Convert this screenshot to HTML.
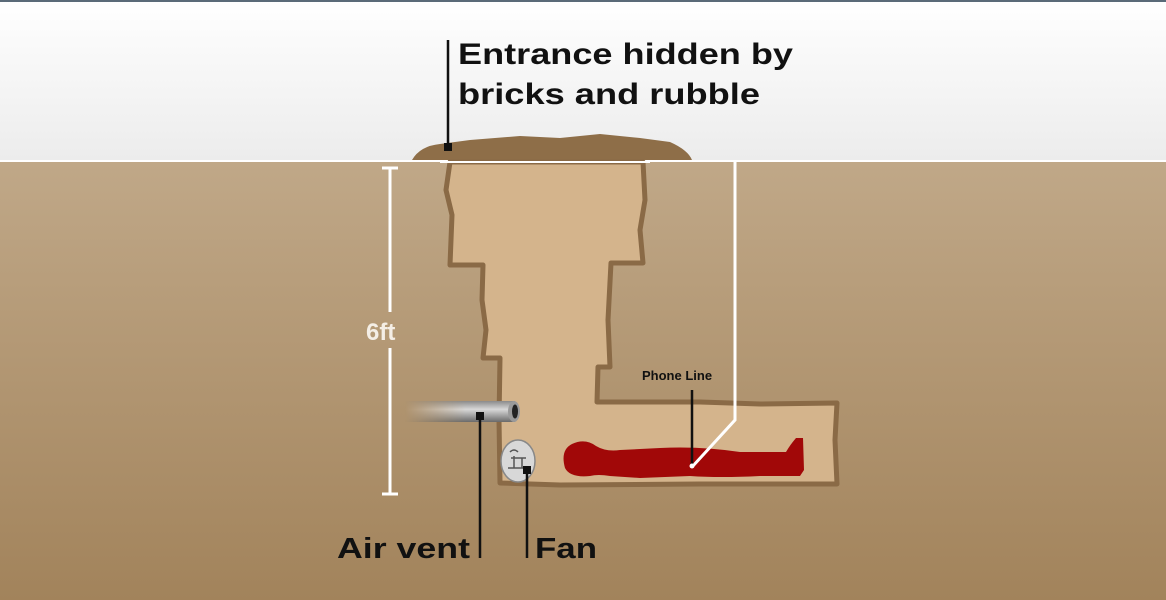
<!DOCTYPE html>
<html><head><meta charset="utf-8"><style>
html,body{margin:0;padding:0;width:1166px;height:600px;overflow:hidden;background:#fff}
svg{display:block}
text{font-family:"Liberation Sans",Arial,sans-serif;font-weight:bold}
</style></head><body>
<svg width="1166" height="600" viewBox="0 0 1166 600" xmlns="http://www.w3.org/2000/svg">
<defs>
<linearGradient id="sky" x1="0" y1="0" x2="0" y2="1"><stop offset="0" stop-color="#ffffff"/><stop offset="1" stop-color="#ececec"/></linearGradient>
<linearGradient id="ground" x1="0" y1="0" x2="0" y2="1"><stop offset="0" stop-color="#c0a888"/><stop offset="1" stop-color="#a2835b"/></linearGradient>
<linearGradient id="pipe" x1="0" y1="0" x2="0" y2="1"><stop offset="0" stop-color="#8a8a8a"/><stop offset="0.4" stop-color="#d8d8d8"/><stop offset="1" stop-color="#6a6a6a"/></linearGradient>
<linearGradient id="pipefade" x1="0" y1="0" x2="1" y2="0"><stop offset="0" stop-color="#fff" stop-opacity="0"/><stop offset="0.55" stop-color="#fff" stop-opacity="1"/></linearGradient>
<mask id="pm" maskUnits="userSpaceOnUse" x="400" y="390" width="130" height="40"><rect x="405" y="390" width="110" height="40" fill="url(#pipefade)"/></mask>
</defs>
<rect width="1166" height="161" fill="url(#sky)"/>
<rect width="1166" height="2" fill="#5a6a78"/>
<rect y="161" width="1166" height="439" fill="url(#ground)"/>
<!-- mound -->
<path d="M412 160 Q420 146 440 144 L470 140 L520 136 L560 138 L600 134 L640 138 L670 142 Q688 150 692 160 Z" fill="#8e6e48"/>
<line x1="0" y1="161" x2="1166" y2="161" stroke="#fff" stroke-width="2"/>
<!-- tunnel -->
<path d="M450 162 L446 190 L452 215 L450 265 L483 265 L482 300 L486 330 L483 358 L500 358 L499 420 L500 483 L560 485 L700 484 L837 484 L835 440 L837 403 L760 404 L700 402 L597 402 L598 367 L610 367 L608 320 L611 263 L643 263 L640 230 L645 200 L643 162 Z" fill="#d4b48c" stroke="#8a6a46" stroke-width="5" stroke-linejoin="round"/>
<line x1="440" y1="162" x2="650" y2="162" stroke="#fff" stroke-width="2"/>
<!-- body -->
<path d="M572 444 Q585 438 596 446 Q606 452 620 450 L660 448 Q700 446 740 452 L786 452 Q790 445 796 438 L803 438 L804 470 L800 476 L760 476 Q720 478 690 476 L640 478 L610 476 Q598 474 590 476 Q570 478 565 468 Q560 450 572 444 Z" fill="#a10808"/>
<!-- phone line -->
<polyline points="735,162 735,420 692,467" fill="none" stroke="#fff" stroke-width="3"/>
<line x1="692" y1="390" x2="692" y2="466" stroke="#111" stroke-width="2.5"/>
<circle cx="692" cy="466" r="2.5" fill="#fff"/>
<text x="642" y="380" font-size="13" fill="#111">Phone Line</text>
<!-- 6ft -->
<line x1="390" y1="168" x2="390" y2="312" stroke="#fff" stroke-width="3"/>
<line x1="390" y1="348" x2="390" y2="494" stroke="#fff" stroke-width="3"/>
<line x1="382" y1="168" x2="398" y2="168" stroke="#fff" stroke-width="3"/>
<line x1="382" y1="494" x2="398" y2="494" stroke="#fff" stroke-width="3"/>
<text x="366" y="340" font-size="24" fill="#f4eee6" font-weight="normal">6ft</text>
<!-- pipe -->
<rect x="405" y="401" width="110" height="21" fill="url(#pipe)" mask="url(#pm)"/>
<ellipse cx="514" cy="411.5" rx="6" ry="10.5" fill="#9a9a9a"/>
<ellipse cx="515" cy="411.5" rx="3" ry="7" fill="#222"/>
<!-- fan -->
<ellipse cx="518" cy="461" rx="17" ry="21" fill="#d8d8d8" stroke="#888" stroke-width="1.5"/>
<path d="M510 452 Q514 448 518 452 M508 468 L528 468 M514 456 L514 468 M522 458 L522 468 M511 458 L526 458" stroke="#555" stroke-width="1.5" fill="none"/>
<!-- leaders -->
<line x1="480" y1="416" x2="480" y2="558" stroke="#111" stroke-width="2.5"/>
<rect x="476" y="412" width="8" height="8" fill="#111"/>
<line x1="527" y1="470" x2="527" y2="558" stroke="#111" stroke-width="2.5"/>
<rect x="523" y="466" width="8" height="8" fill="#111"/>
<line x1="448" y1="40" x2="448" y2="147" stroke="#111" stroke-width="2.5"/>
<rect x="444" y="143" width="8" height="8" fill="#111"/>
<!-- labels -->
<text x="458" y="64" font-size="30" fill="#111" textLength="335" lengthAdjust="spacingAndGlyphs">Entrance hidden by</text>
<text x="458" y="104" font-size="30" fill="#111" textLength="302" lengthAdjust="spacingAndGlyphs">bricks and rubble</text>
<text x="337" y="558" font-size="29" fill="#111" textLength="133" lengthAdjust="spacingAndGlyphs">Air vent</text>
<text x="535" y="558" font-size="29" fill="#111" textLength="62" lengthAdjust="spacingAndGlyphs">Fan</text>
</svg>
</body></html>
